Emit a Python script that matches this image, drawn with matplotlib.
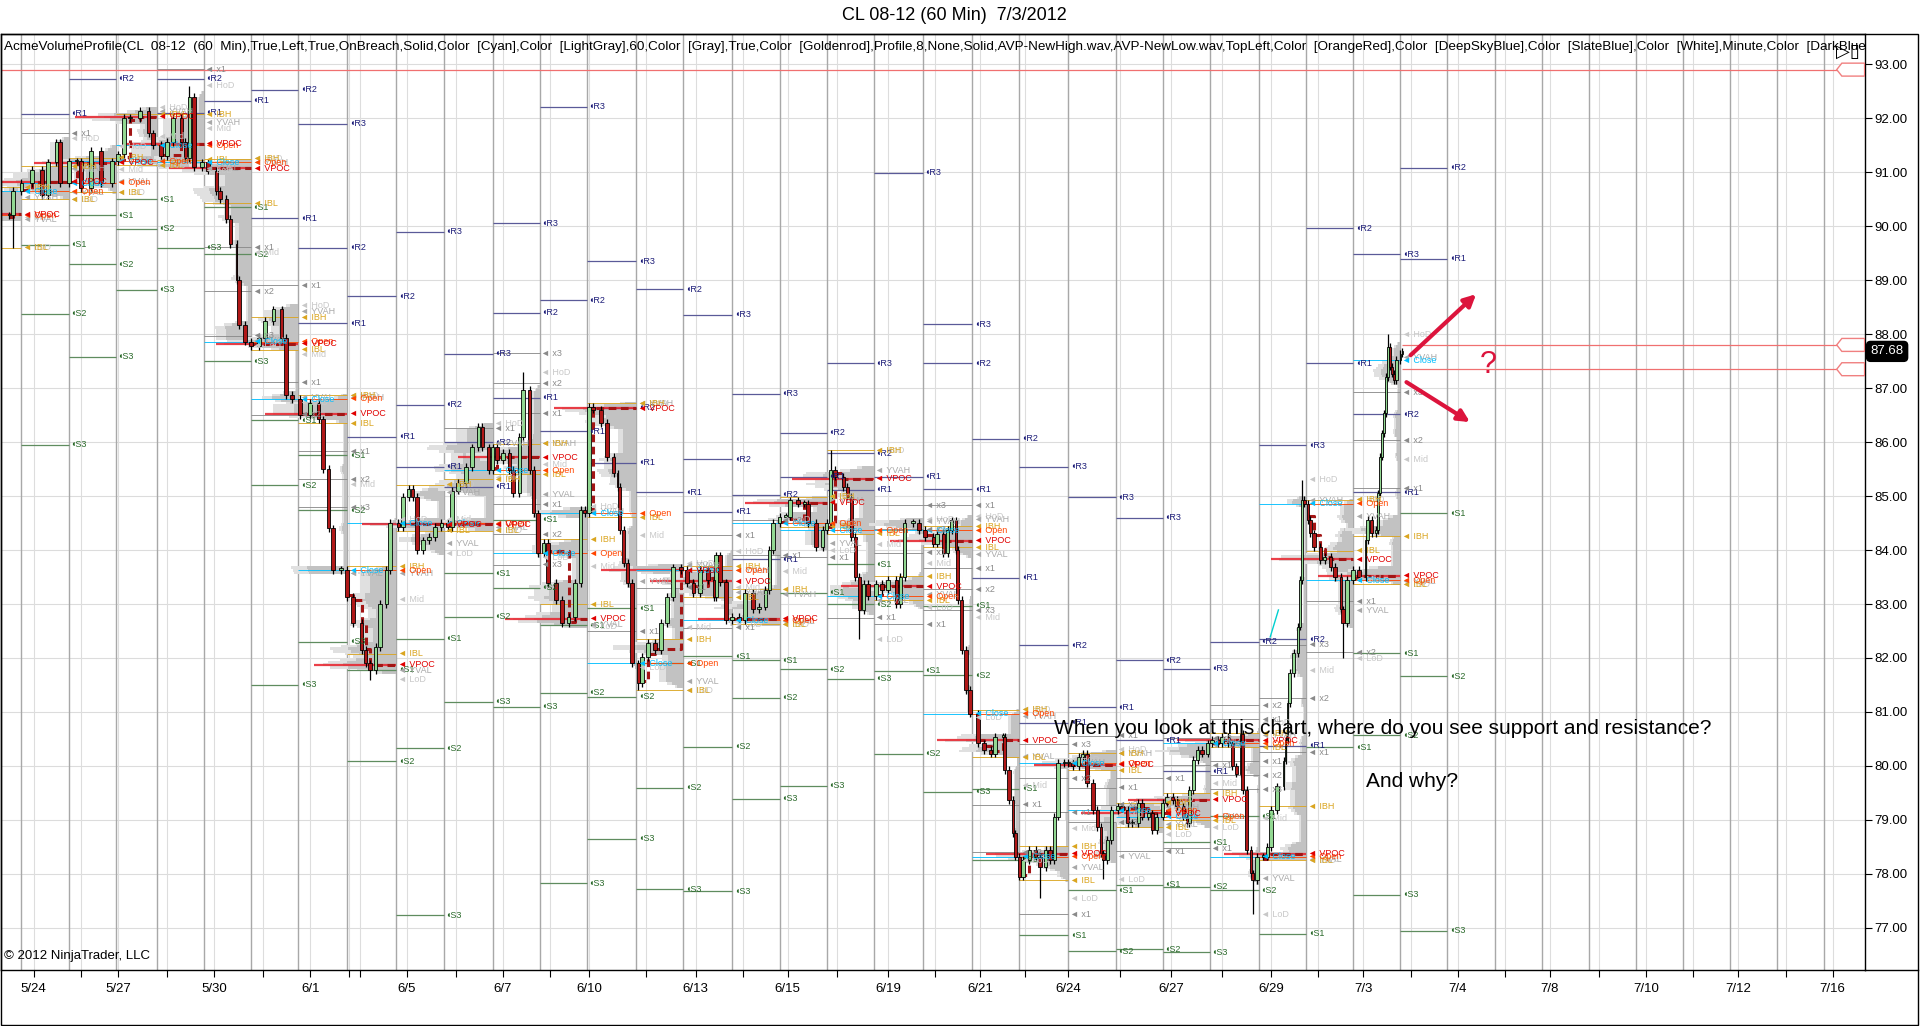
import numpy as np
import matplotlib
matplotlib.use("Agg")
import matplotlib.pyplot as plt
from matplotlib.patches import Polygon

plt.rcParams['font.family'] = ['Liberation Sans', 'DejaVu Sans']

# ---- price path: hourly bar number and close ----
bars = [4, 6, 10, 15, 20, 23, 27, 29, 33, 37,
        39, 44, 49, 54, 57, 60, 63, 68, 72, 74,
        78, 81, 84, 88, 90, 92, 94, 98, 101, 105,
        107, 110, 112, 115, 116, 119, 122, 126, 129, 133,
        137, 139, 142, 146, 151, 155, 157, 160, 162,
        166, 169, 172, 176, 178, 180, 183, 185, 188, 190,
        194, 196, 199, 201, 203, 206, 209, 212, 215, 218,
        220, 223, 227, 230, 233, 235, 238, 240, 242, 245,
        248, 250, 253, 255, 258, 260, 262, 265, 267, 271,
        274, 277, 280, 283, 285, 287, 289, 293, 296, 299,
        301, 302, 304, 306, 308, 311, 313, 316, 319, 322,
        325, 328, 332, 335, 338, 341, 345, 348,
        349, 351, 354, 357, 360, 363, 367, 370, 373, 375,
        377, 380, 383, 385, 389, 392, 394, 398, 401, 403,
        405, 407, 411, 413, 415, 417, 419, 421, 423, 427,
        430, 433, 437, 439, 441, 445, 448, 451, 455, 457,
        460, 462, 464, 466, 467, 469, 471, 473, 477, 480,
        483, 485, 489, 490, 492, 494, 495, 497, 499, 502,
        505, 507, 510, 512, 514, 516, 519, 521, 523, 526,
        528, 530, 533, 535,
        537, 538, 540, 542, 545, 547, 550, 552, 555, 557,
        560, 562, 564, 567, 569, 572, 574, 577, 579, 580,
        582, 584, 586, 589, 591, 594, 596, 599, 601, 603,
        605, 606, 608, 610, 611, 613, 616, 618, 620, 623,
        626, 627, 628, 629, 631, 633, 634, 635, 636, 638,
        639, 641, 644, 646, 649, 651, 654, 655, 657, 660,
        663, 666, 667, 669, 671, 672, 673, 674, 675, 676,
        677, 678, 679, 680, 681, 683, 684]

close = [90.2, 90.65, 90.8, 91.04, 90.57, 91.18, 91.55, 90.8, 91.2, 91.2,
         90.7, 91.4, 90.8, 91.2, 91.33, 92.0, 92.0, 92.13, 91.72, 91.5,
         91.3, 91.56, 92.0, 91.56, 91.26, 92.4, 91.1, 91.18, 91.03, 90.65,
         90.5, 90.13, 89.67, 89.0, 88.17, 87.86, 87.78, 87.93, 88.24, 88.46,
         87.93, 86.87, 86.8, 86.5, 86.72, 86.42, 85.5, 84.4, 83.63,
         83.63, 83.13, 82.65, 82.15, 81.9, 81.78, 82.2, 83.0, 83.63, 84.5,
         84.43, 84.98, 85.14, 84.98, 84.0, 84.18, 84.24, 84.43, 84.5, 84.43,
         85.1, 85.24, 85.54, 85.9, 86.28, 85.9, 85.48, 85.9, 85.67, 85.8,
         85.48, 85.05, 86.09, 86.96, 85.48, 84.68, 83.94, 84.13, 83.39, 83.07,
         82.65, 82.76, 83.39, 84.74, 84.68, 86.65, 86.6, 86.35, 85.72, 85.42,
         85.17, 84.37, 83.76, 83.39, 81.9, 81.54, 82.02, 82.28, 82.15, 82.65,
         83.13, 83.68, 83.63, 83.39, 83.2, 83.63, 83.44, 83.13,
         83.9, 83.4, 82.7, 82.76, 82.7, 83.2, 82.9, 82.95, 83.26, 84.0,
         84.5, 84.62, 84.62, 84.92, 84.86, 84.86, 84.5, 84.06, 84.37, 84.5,
         85.48, 85.36, 85.17, 84.99, 84.24, 83.5, 82.89, 83.38, 83.14, 83.38,
         83.26, 83.44, 83.0, 83.5, 84.5, 84.5, 84.37, 84.24, 84.12, 84.3,
         83.94, 84.37, 84.55, 84.0, 83.07, 82.15, 81.41, 80.97, 80.42, 80.3,
         80.23, 80.54, 80.54, 79.92, 79.37, 78.75, 78.32, 77.95, 78.26, 78.44,
         78.32, 78.13, 78.44, 78.26, 79.06, 80.05, 80.05, 80.05, 79.99, 80.17,
         80.23, 79.68, 79.18, 78.87,
         78.38, 78.26, 78.63, 79.18, 79.25, 79.18, 78.94, 78.94, 79.31, 79.06,
         79.12, 78.81, 79.06, 79.31, 79.43, 79.37, 79.25, 79.06, 78.94, 79.55,
         80.11, 80.3, 80.23, 80.42, 80.48, 80.42, 80.54, 80.42, 79.99, 79.86,
         80.6, 79.55, 78.44, 78.01, 77.89, 78.32, 78.32, 78.5, 79.18, 79.62,
         80.1, 80.48, 81.16, 81.72, 82.09, 82.58, 83.44, 84.93, 84.86, 84.56,
         84.31, 84.06, 83.81, 83.88, 83.69, 83.5, 82.9, 82.64, 83.44, 83.63,
         83.5, 84.19, 84.56, 84.31, 84.37, 85.05, 85.73, 86.16, 86.53, 87.21,
         87.77, 87.4, 87.27, 87.15, 87.52, 87.64, 87.68]

# wick extremes that stick out well beyond the bodies
spike_high = {92: 92.6, 255: 87.3, 405: 85.85, 605: 80.8, 635: 85.3, 677: 88.0}
spike_low = {6: 89.6, 180: 81.6, 311: 81.4, 419: 82.35, 507: 77.55,
             538: 77.9, 611: 77.25, 655: 82.0}

# session boundaries (bar numbers)
session_start = [10, 33, 56, 76, 99, 122, 145, 169, 193, 216, 240, 263, 286,
                 310, 333, 357, 380, 403, 426, 450, 474, 497, 521, 544, 567,
                 590, 614, 637, 660, 683, 706, 729, 752, 775, 798, 821, 844,
                 867, 890]

tick_bars = [16, 39, 57, 81, 104, 128, 151, 170, 175, 198, 222, 245, 268, 287,
             315, 339, 362, 384, 408, 433, 456, 478, 500, 521, 546, 571, 596,
             620, 643, 665, 688, 711, 734, 756, 780, 803, 826, 848, 871, 894]
tick_labels = ['5/24', '', '5/27', '', '5/30', '', '6/1', '', '', '6/5', '',
               '6/7', '', '6/10', '', '6/13', '', '6/15', '', '6/19', '',
               '6/21', '', '6/24', '', '6/27', '', '6/29', '', '7/3', '',
               '7/4', '', '7/8', '', '7/10', '', '7/12', '', '7/16']

# floor pivots per session (None = off chart or not legible)
piv_r3 = [None, None, None, None, None, None, 91.9, None, 89.9, 87.64,
          90.05, 92.21, 89.35, None, 88.36, 86.9, None, 87.46, 90.99, 88.18,
          None, 85.54, 84.98, 84.6, 81.8, None, 85.94, None, 89.48, None]
piv_r2 = [None, 92.73, None, 92.73, None, 92.53, 89.6, 88.7, 86.69, 86.0,
          88.4, 88.63, 86.64, 88.83, 85.68, 85.02, 86.17, 85.79, None, 87.46,
          86.06, 82.24, None, 81.96, None, 82.3, 82.35, 89.96, 86.52, 91.08]
piv_r1 = [92.08, None, None, 92.1, 92.32, 90.15, 88.2, 86.1, 85.54, 85.17,
          86.82, 86.2, 85.62, 85.07, 84.71, 83.83, 85.36, 85.12, 85.36, 85.13,
          83.49, 80.8, 81.09, 80.48, 79.9, None, 80.37, 87.46, 85.07, 89.4]
piv_s1 = [89.66, 90.2, 90.5, None, 90.35, 86.4, 85.76, 81.78, 82.36, 83.57,
          84.56, 82.61, 82.92, 81.9, 82.03, 81.96, 83.21, 83.74, 81.76, 82.97,
          79.58, 76.86, 77.7, 77.8, 78.59, 79.07, 76.89, 80.35, 82.09, 84.68]
piv_s2 = [88.38, 89.29, 89.95, None, 89.48, 85.2, 84.74, 80.09, 80.33, 82.76,
          83.3, 81.36, 81.28, 79.6, 80.36, 81.26, 81.79, 83.0, 80.23, 81.68,
          78.26, None, 76.57, 76.6, 77.76, 77.7, None, None, 80.57, 81.66]
piv_s3 = [85.95, 87.58, 88.82, 89.6, 87.5, 81.5, 82.3, None, 77.23, 81.19,
          81.1, 77.83, 78.65, 77.72, 77.68, 79.39, 79.63, 81.62, None, 79.52,
          None, None, None, None, 76.55, None, None, None, 77.61, 76.95]

title = 'CL 08-12 (60 Min)  7/3/2012'
header = ('AcmeVolumeProfile(CL  08-12  (60  Min),True,Left,True,OnBreach,Solid,'
          'Color  [Cyan],Color  [LightGray],60,Color  [Gray],True,Color  [Goldenrod],'
          'Profile,8,None,Solid,AVP-NewHigh.wav,AVP-NewLow.wav,TopLeft,'
          'Color  [OrangeRed],Color  [DeepSkyBlue],Color  [SlateBlue],Color  [White],'
          'Minute,Color  [DarkBlue],Color  [DarkGreen]')
question = 'When you look at this chart, where do you see support and resistance?'
question2 = 'And why?'
last_price = 87.68
alert_levels = [92.9, 87.8, 87.35]
cyan_stroke_x = [619.5, 623.5]
cyan_stroke_y = [82.39, 82.89]

# ------------------------------------------------------------------
fig = plt.figure(figsize=(19.2, 10.26), dpi=100)
ax = fig.add_axes([1 / 1920, 56 / 1026, 1864 / 1920, 936 / 1026])
ax.set_xlim(0, 909.8)
ax.set_ylim(76.22, 93.56)

xb = np.array(bars, dtype=float)
cl = np.array(close)
op = np.r_[cl[0], cl[:-1]]
hi = np.maximum(op, cl) + 0.07
lo = np.minimum(op, cl) - 0.07
for b, v in spike_high.items():
    hi[bars.index(b)] = v
for b, v in spike_low.items():
    lo[bars.index(b)] = v

# grid
for yv in range(77, 94):
    ax.axhline(yv, color='#dcdcdc', lw=0.8, zorder=0)
for t in tick_bars:
    ax.axvline(t, color='#dddddd', lw=0.8, zorder=0)
for s in session_start:
    ax.axvline(s, color='#a8a8a8', lw=1.0, zorder=0.5)

# pivots
bounds = np.array(session_start, dtype=float)
piv_sets = [('R3', piv_r3), ('R2', piv_r2), ('R1', piv_r1),
            ('S1', piv_s1), ('S2', piv_s2), ('S3', piv_s3)]
for name, vals in piv_sets:
    lc = '#5a5a98' if name[0] == 'R' else '#5f8c5f'
    tc = '#1c1c78' if name[0] == 'R' else '#2b6a2b'
    for k, v in enumerate(vals):
        if v is None:
            continue
        ax.hlines(v, bounds[k], bounds[k + 1], color=lc, lw=0.9, zorder=2)
        ax.text(bounds[k + 1] + 0.8, v, '\u25d6' + name, color=tc, fontsize=6.5,
                va='center', ha='left', zorder=6, clip_on=True)

# volume profiles, developing VPOC and session levels
step = 0.05
edges = np.arange(76.0, 94.0 + step / 2, step)
cen = (edges[:-1] + edges[1:]) / 2
kern = np.ones(3) / 3
pb = np.r_[0.0, bounds]
sid = np.searchsorted(pb, xb, side='right') - 1
for s in range(len(pb) - 1):
    idx = np.where(sid == s)[0]
    left, right = pb[s], pb[s + 1]
    if len(idx) == 0 or right > xb[-1]:
        continue
    w = np.zeros(len(cen))
    dev = []
    for i in idx:
        dt = xb[i] - xb[i - 1] if i > 0 else 1.0
        m = (cen >= min(op[i], cl[i]) - 0.03) & (cen <= max(op[i], cl[i]) + 0.03)
        w[m] += dt / m.sum()
        dev.append(cen[np.argmax(np.convolve(w, kern, 'same'))])
    ws = np.convolve(w, kern, 'same')
    ln = ws / ws.max() * 36
    keep = ln > 0.4
    ax.barh(cen[keep], -ln[keep], left=right, height=step, color='#e0e0e0',
            lw=0, zorder=1)
    ax.barh(cen[keep], -0.72 * ln[keep], left=right, height=step, color='#c2c2c2',
            lw=0, zorder=1)
    vpoc = cen[np.argmax(ws)]
    ax.hlines(vpoc, right - 40, right, color='#e8202a', lw=1.6, alpha=0.85, zorder=2)
    ax.step(np.r_[xb[idx], right], np.r_[dev, dev[-1]], where='post',
            color='#a31515', lw=2.2, dashes=(2.5, 1.5), zorder=3)

    # value area (70 %)
    order = np.argsort(ws)[::-1]
    cum = np.cumsum(ws[order])
    va_bins = cen[order[:np.searchsorted(cum, 0.7 * cum[-1]) + 1]]
    s_hi, s_lo = hi[idx].max(), lo[idx].min()
    ib = idx[:3]
    ibh, ibl = hi[ib].max(), lo[ib].min()
    rng = ibh - ibl
    levels = [('HoD', s_hi, '#c8c8c8', False), ('LoD', s_lo, '#c8c8c8', False),
              ('Mid', (s_hi + s_lo) / 2, '#c8c8c8', False),
              ('YVAH', va_bins.max(), '#a8a8a8', False),
              ('YVAL', va_bins.min(), '#a8a8a8', False),
              ('IBH', ibh, '#daa520', True), ('IBL', ibl, '#daa520', True),
              ('Open', op[idx[0]], '#ff4500', True),
              ('Close', cl[idx[-1]], '#00bfff', True),
              ('VPOC', vpoc, '#e00000', False)]
    for n in (1, 2, 3):
        for lvl in (ibh + n * rng, ibl - n * rng):
            if s_lo - 0.4 < lvl < s_hi + 0.4:
                levels.append(('x%d' % n, lvl, '#8a8a8a', True))
    for name, y, col, line in levels:
        if line:
            ax.hlines(y, left, right, color=col, lw=0.7, alpha=0.9, zorder=2)
        ax.text(right + 0.8, y, '\u25c4 ' + name, color=col, fontsize=6.5,
                va='center', ha='left', zorder=6, clip_on=True)

# candles
gaps = np.r_[np.diff(xb), 1.0]
wid = np.clip(gaps * 0.75, 0.7, 1.9)
up = cl >= op
body_lo = np.minimum(op, cl)
body_h = np.maximum(np.abs(cl - op), 0.03)
ax.vlines(xb, lo, hi, color='black', lw=0.9, zorder=4)
ax.bar(xb[up], body_h[up], bottom=body_lo[up], width=wid[up], color='#92d892',
       edgecolor='black', lw=0.6, zorder=5)
ax.bar(xb[~up], body_h[~up], bottom=body_lo[~up], width=wid[~up], color='#b01818',
       edgecolor='black', lw=0.6, zorder=5)
ax.plot(cyan_stroke_x, cyan_stroke_y, color='#00d0d0', lw=1, zorder=5)

# alert lines and tags
ax.axhline(alert_levels[0], color='#f07070', lw=0.9, zorder=2)
for lvl in alert_levels[1:]:
    ax.hlines(lvl, xb[-1], 909.8, color='#f07070', lw=0.9, zorder=2)
for lvl in alert_levels:
    ax.add_patch(Polygon([(896, lvl), (898.5, lvl + 0.12), (909.6, lvl + 0.12),
                          (909.6, lvl - 0.12), (898.5, lvl - 0.12)], closed=True,
                         fc='white', ec='#f08080', lw=1, zorder=6))

# annotations
ax.text(514, 80.69, question, fontsize=15, va='center', ha='left', zorder=7)
ax.text(666, 79.72, question2, fontsize=15, va='center', ha='left', zorder=7)
arrow = dict(arrowstyle='-|>,head_length=0.7,head_width=0.35', color='#dc143c',
             lw=3, shrinkA=0, shrinkB=0)
ax.annotate('', xy=(720, 88.74), xytext=(688, 87.61), arrowprops=arrow, zorder=7)
ax.annotate('', xy=(717, 86.37), xytext=(686, 87.11), arrowprops=arrow, zorder=7)
ax.text(726, 87.43, '?', color='#dc143c', fontsize=22, va='center', ha='center', zorder=7)

ax.text(0.0015, 0.986, header, transform=ax.transAxes, fontsize=9.7, va='center',
        ha='left', clip_on=True, zorder=8)
ax.text(0.0015, 0.009, '\u00a9 2012 NinjaTrader, LLC', transform=ax.transAxes,
        fontsize=9.5, va='bottom', ha='left', zorder=8)

# axes
ax.yaxis.tick_right()
ax.set_yticks(range(77, 94))
ax.set_yticklabels(['%.2f' % v for v in range(77, 94)])
ax.set_xticks(tick_bars)
ax.set_xticklabels(tick_labels)
ax.tick_params(axis='y', direction='out', length=5, labelsize=9.5, pad=2)
ax.tick_params(axis='x', direction='out', length=5, labelsize=9.5, pad=4)
for sp in ax.spines.values():
    sp.set_color('black')
    sp.set_linewidth(1)

ax.annotate('%.2f' % last_price, xy=(1.0, last_price), xycoords=('axes fraction', 'data'),
            xytext=(4, 0), textcoords='offset points', va='center', ha='left',
            color='white', fontsize=9.5, annotation_clip=False,
            bbox=dict(boxstyle='round,pad=0.3', fc='black', ec='black'))

fig.text(0.497, 0.985, title, ha='center', va='center', fontsize=13)
fig.text(1848 / 1920, 1 - 52 / 1026, '\u25b7\u25af', ha='center', va='center',
         fontsize=13, family='DejaVu Sans')
fig.add_artist(plt.Rectangle((0.5 / 1920, 1 / 1026), 1917 / 1920, 991 / 1026,
                             transform=fig.transFigure, fill=False, ec='black', lw=1))
fig.add_artist(plt.Line2D([1865 / 1920, 1918 / 1920], [56 / 1026, 56 / 1026],
                          transform=fig.transFigure, color='black', lw=1))

fig.savefig('out.png', dpi=100, facecolor='white')
